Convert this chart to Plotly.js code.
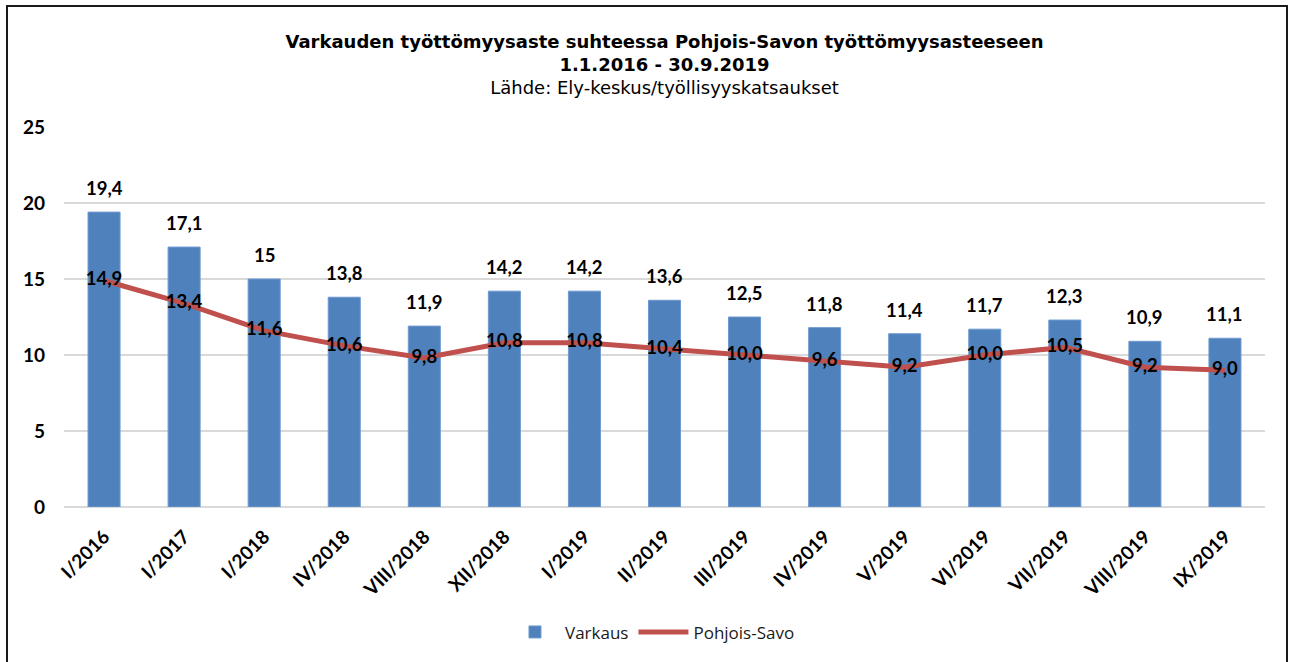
<!DOCTYPE html>
<html>
<head>
<meta charset="utf-8">
<script src="https://cdn.plot.ly/plotly-3.0.1.min.js"></script>
<style>
html,body{margin:0;padding:0;background:#fff;}
#wrap{position:relative;width:1290px;height:662px;overflow:hidden;}
#chart{width:1290px;height:662px;}
#frame{position:absolute;left:6px;top:5px;width:1282px;height:700px;border:2px solid #1a1a1a;box-sizing:border-box;pointer-events:none;}
</style>
</head>
<body>
<div id="wrap"><div id="chart"></div><div id="frame"></div></div>
<script>
const categories = ["I/2016","I/2017","I/2018","IV/2018","VIII/2018","XII/2018","I/2019","II/2019","III/2019","IV/2019","V/2019","VI/2019","VII/2019","VIII/2019","IX/2019"];
const varkaus = [19.4,17.1,15,13.8,11.9,14.2,14.2,13.6,12.5,11.8,11.4,11.7,12.3,10.9,11.1];
const pohjoisSavo = [14.9,13.4,11.6,10.6,9.8,10.8,10.8,10.4,10.0,9.6,9.2,10.0,10.5,9.2,9.0];
const yTicks = [0,5,10,15,20,25];

const LBL = "Lato, 'DejaVu Sans', sans-serif";

const barTrace = {
  type: 'bar', name: 'Varkaus', x: categories, y: varkaus,
  marker: {color: '#4F81BD', line: {color: '#6F9AD0', width: 1}},
  width: 0.4, hoverinfo: 'skip'
};
const lineTrace = {
  type: 'scatter', mode: 'lines+text', name: 'Pohjois-Savo', x: categories, y: pohjoisSavo,
  line: {color: '#C0504D', width: 5},
  text: pohjoisSavo.map(v => v.toFixed(1).replace('.', ',')),
  textposition: 'middle center',
  textfont: {family: LBL, size: 18.5, color: '#000', weight: 'bold'},
  cliponaxis: false, hoverinfo: 'skip'
};

const barLabels = categories.map((c, i) => ({
  x: c, y: varkaus[i], xref: 'x', yref: 'y',
  text: '<b>' + String(varkaus[i]).replace('.', ',') + '</b>',
  showarrow: false, yanchor: 'bottom', yshift: 11,
  font: {family: LBL, size: 18.5, color: '#000'}
}));

const layout = {
  width: 1290, height: 662,
  margin: {l: 64, r: 25, t: 127, b: 155},
  paper_bgcolor: '#fff', plot_bgcolor: '#fff',
  title: {
    text: '<b>Varkauden työttömyysaste suhteessa Pohjois-Savon työttömyysasteeseen<br>1.1.2016 - 30.9.2019</b><br>Lähde: Ely-keskus/työllisyyskatsaukset',
    font: {family: "'DejaVu Sans', sans-serif", size: 18, color: '#000'},
    x: 0.5, xanchor: 'center', xref: 'paper', y: 0.928, yanchor: 'top', yref: 'container'
  },
  xaxis: {
    type: 'category', tickangle: -45, showgrid: false, zeroline: false,
    showline: false, ticks: '', ticklabelstandoff: 14,
    tickfont: {family: LBL, size: 19, color: '#000', weight: 'bold'},
    range: [-0.5, categories.length - 0.5]
  },
  yaxis: {
    range: [0, 25], tickvals: yTicks, ticktext: yTicks.map(String),
    showgrid: true, gridcolor: '#D9D9D9', gridwidth: 1.5,
    zeroline: true, zerolinecolor: '#D9D9D9', zerolinewidth: 1.5,
    showline: false, ticks: '', ticklabelstandoff: 18,
    tickfont: {family: LBL, size: 19, color: '#000', weight: 'bold'}
  },
  legend: {
    orientation: 'h', x: 0.49, xanchor: 'center', y: -0.33, yanchor: 'middle',
    font: {family: "'Open Sans', sans-serif", size: 17, color: '#1a1a1a'},
    itemwidth: 50, traceorder: 'normal'
  },
  annotations: barLabels,
  showlegend: true
};

Plotly.newPlot('chart', [barTrace, lineTrace], layout, {displayModeBar: false, staticPlot: true});
</script>
</body>
</html>
